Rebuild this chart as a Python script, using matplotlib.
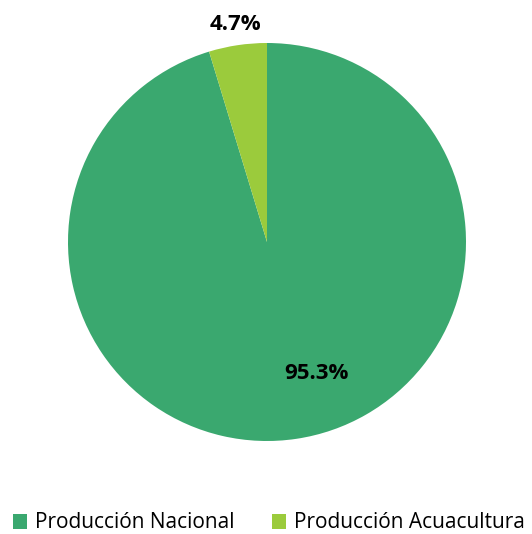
import matplotlib.pyplot as plt
from matplotlib.patches import Patch

categorias = ['Producción Nacional', 'Producción Acuacultura']
valores = [95.3, 4.7]
colores = ['#3aa86f', '#9bcb3c']
etiquetas = ['95.3%', '4.7%']

plt.rcParams['font.family'] = ['Open Sans', 'DejaVu Sans']

fig = plt.figure(figsize=(5.32, 5.34), dpi=100)
ax = fig.add_axes([68/532, 93/534, 398/532, 398/534])

wedges, _ = ax.pie(valores, colors=colores, startangle=90, counterclock=False,
                   radius=1, wedgeprops=dict(linewidth=0))
ax.set_xlim(-1, 1)
ax.set_ylim(-1, 1)
ax.set_aspect('equal')

# label positions
pos = [(0.25, -0.66), (-0.16, 1.095)]
for (x, y), t in zip(pos, etiquetas):
    ax.text(x, y, t, ha='center', va='center', fontsize=16, fontweight='bold',
            color='black', clip_on=False)

handles = [Patch(facecolor=c, edgecolor='none') for c in colores]
fig.legend(handles, categorias, loc='center', bbox_to_anchor=(0.505, 11/534),
           ncol=2, frameon=False, fontsize=15, handlelength=0.7, handleheight=0.7,
           handletextpad=0.35, columnspacing=1.8, borderaxespad=0)

fig.savefig('out.png', dpi=100)
